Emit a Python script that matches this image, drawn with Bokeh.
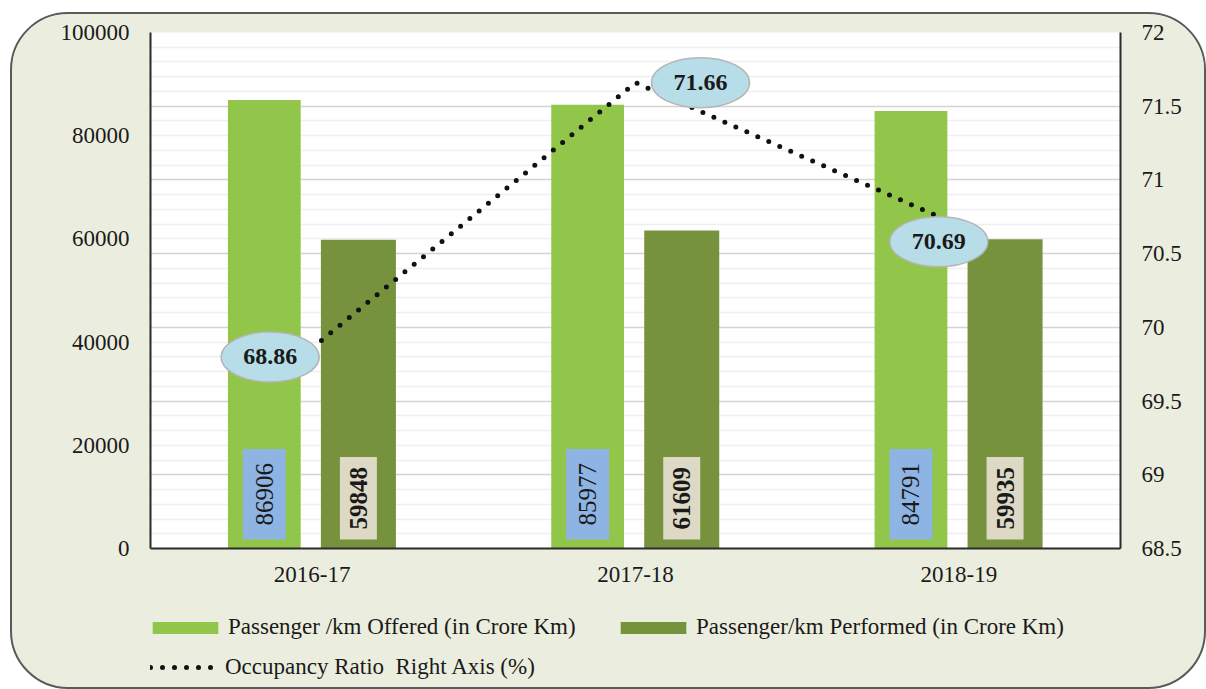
import numpy as np
from bokeh.plotting import figure
from bokeh.layouts import column
from bokeh.models import Range1d, LinearAxis, FixedTicker, Grid, Legend, LegendItem
from bokeh.embed import file_html
from bokeh.resources import INLINE

# ---------------- data ----------------
categories = ["2016-17", "2017-18", "2018-19"]
offered = [86906, 85977, 84791]
performed = [59848, 61609, 59935]
# plotted positions of the occupancy line
occupancy = [69.86, 71.66, 70.69]
# labels as printed in the picture
occupancy_labels = ["68.86", "71.66", "70.69"]
left_ticks = [0, 20000, 40000, 60000, 80000, 100000]
left_tick_labels = ["0", "20000", "40000", "60000", "80000", "100000"]
right_ticks = [68.5, 69, 69.5, 70, 70.5, 71, 71.5, 72]
right_tick_labels = ["68.5", "69", "69.5", "70", "70.5", "71", "71.5", "72"]
series_names = ["Passenger /km Offered (in Crore Km)",
                "Passenger/km Performed (in Crore Km)",
                "Occupancy Ratio  Right Axis (%)"]

# ---------------- style ----------------
BG = "#EBEEDE"
LIGHT = "#92C64A"
DARK = "#76923C"
BLUE = "#8DB4E2"
TAN = "#DDD9C4"
AQUA = "#B7DEE8"
TXT = "#1a1a1a"
SERIF = "Liberation Serif"
SANS = "Liberation Sans"
FS = "23px"

W = 1192
HP, HL = 600, 73
FRAME_W, FRAME_H = 970, 516

p = figure(width=W, height=HP, output_backend="svg", toolbar_location=None,
           x_range=Range1d(0, 3), y_range=Range1d(0, 100000),
           min_border_left=138, min_border_right=84, min_border_top=18, min_border_bottom=66,
           background_fill_color="white", border_fill_color=BG, outline_line_color=None)

p.extra_y_ranges = {"occ": Range1d(68.5, 72)}

p.xgrid.grid_line_color = None
p.ygrid.grid_line_color = None

minor = [round(v, 1) for v in np.arange(68.6, 72.0, 0.1) if round(v * 10) % 5 != 0]
grid = Grid(dimension=1, y_range_name="occ",
            ticker=FixedTicker(ticks=right_ticks, minor_ticks=minor),
            grid_line_color="#d4d4d4", grid_line_width=1.3,
            minor_grid_line_color="#efefef", minor_grid_line_width=1.3)
p.add_layout(grid)

def style_axis(ax, standoff):
    ax.major_tick_line_color = None
    ax.minor_tick_line_color = None
    ax.major_tick_out = 0
    ax.major_tick_in = 0
    ax.axis_line_color = "#2b2b2b"
    ax.axis_line_width = 2
    ax.major_label_text_font = SERIF
    ax.major_label_text_font_size = FS
    ax.major_label_text_color = TXT
    ax.major_label_standoff = standoff

xa = p.xaxis[0]
xa.ticker = FixedTicker(ticks=[i + 0.5 for i in range(len(categories))])
xa.major_label_overrides = {i + 0.5: c for i, c in enumerate(categories)}
style_axis(xa, 18)

ya = p.yaxis[0]
ya.ticker = FixedTicker(ticks=left_ticks)
ya.major_label_overrides = dict(zip(left_ticks, left_tick_labels))
style_axis(ya, 21)

ra = LinearAxis(y_range_name="occ", ticker=FixedTicker(ticks=right_ticks))
ra.major_label_overrides = dict(zip(right_ticks, right_tick_labels))
style_axis(ra, 21)
p.add_layout(ra, "right")

centers = [i + 0.5 for i in range(len(categories))]
x_off = [c - 0.148 for c in centers]
x_perf = [c + 0.143 for c in centers]

bar_off_style = dict(fill_color=LIGHT, line_color=None)
bar_perf_style = dict(fill_color=DARK, line_color=None)
line_style = dict(line_color="#111111", line_width=5, line_dash="0 12", line_cap="round")

p.vbar(x=x_off, top=offered, width=0.225, **bar_off_style)
p.vbar(x=x_perf, top=performed, width=0.232, **bar_perf_style)

# rotated value labels in boxes
p.text(x=x_off, y=[0] * 3, text=[str(v) for v in offered], angle=np.pi / 2,
       text_align="left", text_baseline="middle", y_offset=-9,
       text_font=SANS, text_font_size="25px", text_color=TXT,
       background_fill_color=BLUE, padding=dict(left=14, right=14, top=13, bottom=13))
p.text(x=x_perf, y=[0] * 3, text=[str(v) for v in performed], angle=np.pi / 2,
       text_align="left", text_baseline="middle", y_offset=-9,
       text_font=SERIF, text_font_style="bold", text_font_size="25px", text_color=TXT,
       background_fill_color=TAN, padding=dict(left=10, right=10, top=10, bottom=10))

# occupancy line
p.line(x=centers, y=occupancy, y_range_name="occ", **line_style)

# ellipse labels
ell_dx_px = [-42, 65, -20]
ell_dy_px = [9, 0, 16]
ex = [c + dx * 3 / FRAME_W for c, dx in zip(centers, ell_dx_px)]
ey = [v - dy * 3.5 / FRAME_H for v, dy in zip(occupancy, ell_dy_px)]
p.ellipse(x=ex, y=ey, width=98, height=50, width_units="screen", height_units="screen",
          y_range_name="occ", fill_color=AQUA, line_color="#b5b5b5", line_width=1.5)
p.text(x=ex, y=ey, text=occupancy_labels, y_range_name="occ",
       text_align="center", text_baseline="middle",
       text_font=SERIF, text_font_style="bold", text_font_size="24px", text_color=TXT)

# ---------------- legend strip ----------------
lg = figure(width=W, height=HL, output_backend="svg", toolbar_location=None,
            x_range=Range1d(0, 1), y_range=Range1d(0, 1),
            x_axis_location=None, y_axis_location=None,
            min_border=0, min_border_left=0, min_border_right=0,
            min_border_top=0, min_border_bottom=0,
            background_fill_color=None, border_fill_color=None, outline_line_color=None)
lg.xgrid.grid_line_color = None
lg.ygrid.grid_line_color = None
# legend-only renderers, placed far outside the visible range
l_off = lg.vbar(x=[-50], top=[-40], bottom=[-45], width=0.1, **bar_off_style)
l_perf = lg.vbar(x=[-50], top=[-40], bottom=[-45], width=0.1, **bar_perf_style)
l_occ = lg.line(x=[-60, -50], y=[-40, -40], **line_style)

common = dict(orientation="horizontal", padding=0, margin=0, border_line_color=None,
              background_fill_alpha=0, label_height=26,
              label_text_font=SERIF, label_text_font_size=FS,
              label_text_color=TXT, label_text_baseline="middle")
leg1 = Legend(items=[LegendItem(label=series_names[0], renderers=[l_off]),
                     LegendItem(label=series_names[1], renderers=[l_perf])],
              location=(-6, 47), spacing=14, label_width=370,
              glyph_width=82, glyph_height=15, label_standoff=2, **common)
leg2 = Legend(items=[LegendItem(label=series_names[2], renderers=[l_occ])],
              location=(0, 7), glyph_width=66, glyph_height=12, label_standoff=9, **common)
lg.add_layout(leg1)
lg.add_layout(leg2)

layout = column(p, lg, spacing=0)
layout.styles = {"margin-left": "10px", "margin-top": "12px",
                 "border": "2px solid #5a5a5a", "border-radius": "58px",
                 "overflow": "hidden", "background-color": BG}

open("out.html", "w").write(file_html(layout, INLINE))
